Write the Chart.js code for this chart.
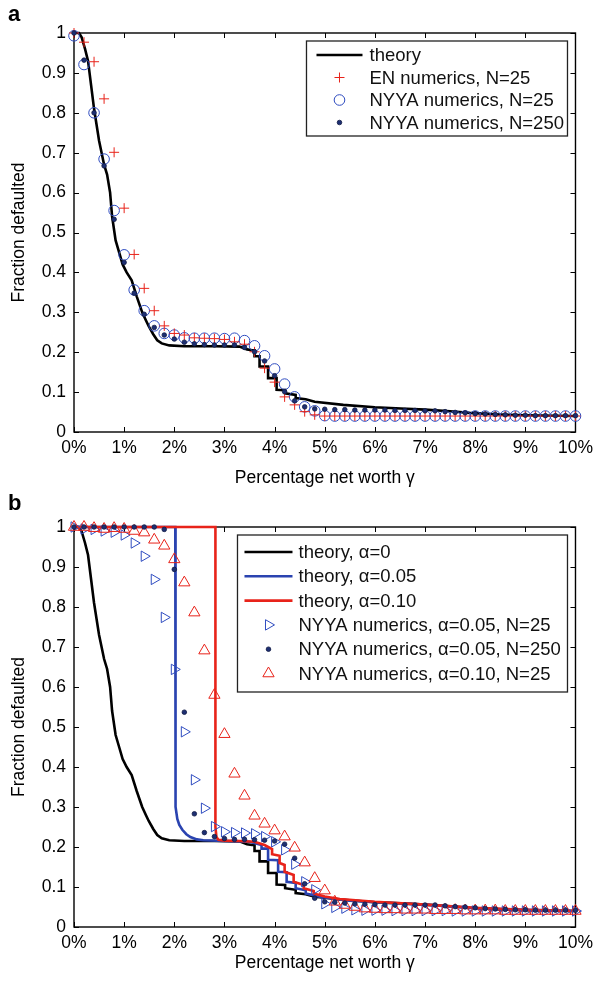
<!DOCTYPE html>
<html lang="en">
<head>
<meta charset="UTF-8" />
<title>Fraction defaulted vs percentage net worth</title>
<script src="https://cdn.jsdelivr.net/npm/chart.js"></script>
<style>
    body { margin: 0; background: #fff; }
    .panel { position: absolute; left: 0; width: 599px; }
    .tag { position: absolute; left: 8px; font: bold 22px "Liberation Sans", Arial, sans-serif; line-height: 22px; }
</style>
</head>
<body>
<div class="panel" style="top:0;height:490px"><canvas id="chartA" width="599" height="490"></canvas></div>
<div class="panel" style="top:490px;height:495px"><canvas id="chartB" width="599" height="495"></canvas></div>
<div class="tag" style="top:3px">a</div>
<div class="tag" style="top:492px">b</div>

<script>
// x positions of the simulated points (percentage net worth)
const xGrid = [0,0.2,0.4,0.6,0.8,1,1.2,1.4,1.6,1.8,2,2.2,2.4,2.6,2.8,3,3.2,3.4,3.6,3.8,4,4.2,4.4,4.6,4.8,
    5,5.2,5.4,5.6,5.8,6,6.2,6.4,6.6,6.8,7,7.2,7.4,7.6,7.8,8,8.2,8.4,8.6,8.8,9,9.2,9.4,9.6,9.8,10];

// theory, alpha = 0 (used in both panels)
const theoryX0 = [0,0.1,0.15,0.22,0.28,0.34,0.4,0.5,0.6,0.66,0.72,0.76,0.83,0.9,0.97,1.05,1.15,1.25,1.36,1.44,
    1.49,1.58,1.66,1.75,1.9,2.2,2.8,3.3,3.45,3.55,3.6,3.6,3.7,3.7,3.87,3.87,4.04,4.04,4.21,4.21,
    4.42,4.42,4.62,4.8,5.37,6.0,6.52,7.0,7.5,7.89,8.5,9.0,10];
const theoryY0 = [1,1,0.99,0.96,0.93,0.87,0.81,0.73,0.67,0.645,0.6,0.54,0.48,0.45,0.42,0.40,0.38,0.34,0.30,0.278,
    0.265,0.245,0.23,0.222,0.217,0.215,0.215,0.214,0.207,0.205,0.205,0.19,0.19,0.164,0.164,0.135,0.135,0.106,0.105,0.097,
    0.093,0.085,0.082,0.076,0.068,0.062,0.059,0.056,0.052,0.048,0.044,0.042,0.040];

// theory, alpha = 0.05
const theoryX05 = [0,2.02,2.02,2.03,2.06,2.1,2.16,2.24,2.32,2.45,2.58,3.0,3.5,3.74,3.74,3.87,3.87,4.07,4.07,4.24,
    4.24,4.42,4.42,4.62,4.62,4.9,5.2,5.5,6.0,7.0,8.0,9.0,10];
const theoryY05 = [1,1,0.33,0.30,0.27,0.255,0.243,0.232,0.225,0.219,0.217,0.215,0.213,0.205,0.196,0.196,0.168,0.167,0.138,0.137,
    0.113,0.11,0.097,0.092,0.084,0.076,0.07,0.066,0.062,0.056,0.047,0.043,0.04];

// theory, alpha = 0.10
const theoryX10 = [0,2.82,2.82,2.84,2.88,3.0,3.3,3.6,3.8,3.95,3.95,4.1,4.1,4.2,4.2,4.38,4.38,4.58,4.58,4.78,
    4.78,5.0,5.3,6.0,7.0,8.0,9.0,10];
const theoryY10 = [1,1,0.25,0.225,0.218,0.216,0.215,0.213,0.205,0.195,0.182,0.178,0.16,0.155,0.138,0.13,0.113,0.105,0.097,0.09,
    0.084,0.076,0.07,0.063,0.056,0.048,0.043,0.04];

// panel a numerics
const enN25 = [1.0,0.977,0.928,0.835,0.701,0.561,0.445,0.36,0.304,0.266,0.247,0.243,0.236,0.235,0.234,0.232,0.226,0.22,0.201,0.16,
    0.125,0.088,0.068,0.051,0.043,0.04,0.04,0.04,0.04,0.04,0.04,0.04,0.04,0.04,0.04,0.04,0.04,0.04,0.04,0.04,
    0.04,0.04,0.04,0.04,0.04,0.04,0.04,0.04,0.04,0.04,0.04];
const nyyaN25 = [0.993,0.921,0.80,0.684,0.555,0.444,0.356,0.304,0.266,0.247,0.243,0.236,0.235,0.235,0.235,0.234,0.235,0.229,0.216,0.191,
    0.158,0.12,0.088,0.063,0.053,0.041,0.04,0.04,0.04,0.04,0.04,0.04,0.04,0.04,0.04,0.04,0.04,0.04,0.04,0.04,
    0.04,0.04,0.04,0.04,0.04,0.04,0.04,0.04,0.04,0.04,0.04];
const nyyaN250 = [1.0,0.932,0.80,0.667,0.533,0.425,0.348,0.295,0.262,0.243,0.233,0.225,0.221,0.219,0.218,0.218,0.218,0.212,0.201,0.178,
    0.141,0.101,0.078,0.063,0.058,0.057,0.056,0.056,0.055,0.055,0.055,0.055,0.054,0.054,0.054,0.053,0.053,0.051,0.049,0.048,
    0.046,0.045,0.044,0.043,0.042,0.042,0.041,0.041,0.041,0.041,0.041];

// panel b numerics
const nyyaA05N25 = [1.0,0.995,0.994,0.99,0.987,0.98,0.96,0.927,0.869,0.774,0.644,0.488,0.368,0.297,0.251,0.238,0.236,0.235,0.233,0.226,
    0.213,0.193,0.157,0.113,0.093,0.058,0.049,0.047,0.043,0.042,0.042,0.042,0.041,0.041,0.041,0.041,0.041,0.041,0.04,0.04,
    0.04,0.04,0.04,0.04,0.04,0.04,0.04,0.04,0.04,0.04,0.04];
const nyyaA05N250 = [1,1,1,1,1,1,1,1,1,0.994,0.894,0.537,0.283,0.236,0.226,0.221,0.219,0.219,0.218,0.217,
    0.215,0.207,0.172,0.108,0.072,0.063,0.062,0.06,0.058,0.057,0.056,0.055,0.055,0.055,0.055,0.055,0.055,0.053,0.051,0.05,
    0.048,0.046,0.045,0.044,0.043,0.043,0.042,0.042,0.042,0.042,0.042];
const nyyaA10N25 = [1.0,1.0,0.997,0.995,0.997,0.995,0.99,0.986,0.968,0.953,0.919,0.861,0.786,0.691,0.58,0.482,0.383,0.328,0.278,0.258,
    0.241,0.226,0.198,0.161,0.122,0.091,0.063,0.055,0.05,0.046,0.045,0.044,0.044,0.043,0.043,0.043,0.042,0.042,0.042,0.041,
    0.041,0.041,0.041,0.04,0.04,0.04,0.04,0.04,0.04,0.04,0.04];

const xTicks = [0,1,2,3,4,5,6,7,8,9,10];
const yTicks = [0,0.1,0.2,0.3,0.4,0.5,0.6,0.7,0.8,0.9,1];

const FONT = '"Liberation Sans", Arial, Helvetica, sans-serif';
const RED = '#e8231a', BLUE = '#2f4cc0', NAVY = '#1d2f72';

function pts(xs, ys) {
    return xs.map((x, i) => ({x: x, y: ys[i]}));
}

function lineSet(label, xs, ys, color, order) {
    return {label, data: pts(xs, ys), showLine: true, borderColor: color, borderWidth: 2.6,
        pointRadius: 0, tension: 0, order, clip: 4, legendType: 'line'};
}

function markSet(label, ys, style, color, fill, radius, order, extra) {
    return Object.assign({label, data: pts(xGrid, ys), showLine: false, pointStyle: style,
        pointRadius: radius, pointBorderColor: color, pointBackgroundColor: fill,
        pointBorderWidth: 1, order, clip: false, legendType: 'mark'}, extra || {});
}

function drawMarker(ctx, ds, cx, cy) {
    const r = ds.pointRadius;
    ctx.save();
    ctx.lineWidth = ds.pointBorderWidth;
    ctx.strokeStyle = ds.pointBorderColor;
    ctx.fillStyle = ds.pointBackgroundColor;
    ctx.beginPath();
    if (ds.pointStyle === 'cross') {
        ctx.moveTo(cx - r, cy); ctx.lineTo(cx + r, cy);
        ctx.moveTo(cx, cy - r); ctx.lineTo(cx, cy + r);
    } else if (ds.pointStyle === 'triangle') {
        let a = (ds.pointRotation || 0) * Math.PI / 180;
        for (let k = 0; k < 3; k++) {
            const px = cx + Math.sin(a) * r, py = cy - Math.cos(a) * r;
            if (k) ctx.lineTo(px, py); else ctx.moveTo(px, py);
            a += 2 * Math.PI / 3;
        }
        ctx.closePath();
    } else {
        ctx.arc(cx, cy, r, 0, 2 * Math.PI);
    }
    ctx.fill();
    ctx.stroke();
    ctx.restore();
}

// box around the axes with inward ticks on all four sides
const framePlugin = {
    id: 'frame',
    beforeDatasetsDraw(chart) {
        const {ctx, chartArea: a, scales} = chart;
        const tl = 5;
        ctx.save();
        ctx.strokeStyle = '#000';
        ctx.lineWidth = 1.4;
        ctx.strokeRect(a.left, a.top, a.right - a.left, a.bottom - a.top);
        ctx.lineWidth = 1;
        ctx.beginPath();
        scales.x.ticks.forEach(t => {
            const px = Math.round(scales.x.getPixelForValue(t.value)) + 0.5;
            ctx.moveTo(px, a.bottom); ctx.lineTo(px, a.bottom - tl);
            ctx.moveTo(px, a.top); ctx.lineTo(px, a.top + tl);
        });
        scales.y.ticks.forEach(t => {
            const py = Math.round(scales.y.getPixelForValue(t.value)) + 0.5;
            ctx.moveTo(a.left, py); ctx.lineTo(a.left + tl, py);
            ctx.moveTo(a.right, py); ctx.lineTo(a.right - tl, py);
        });
        ctx.stroke();
        ctx.restore();
    }
};

// boxed legend inside the top right corner of the axes
const boxLegend = {
    id: 'boxLegend',
    afterDraw(chart, args, o) {
        const {ctx, chartArea: a} = chart;
        const right = a.right - o.inset, left = right - o.width, top = a.top + o.inset;
        ctx.save();
        ctx.fillStyle = '#fff';
        ctx.fillRect(left, top, o.width, o.height);
        ctx.strokeStyle = '#222';
        ctx.lineWidth = 1.3;
        ctx.strokeRect(left, top, o.width, o.height);
        ctx.font = o.fontSize + 'px ' + FONT;
        ctx.textBaseline = 'middle';
        chart.data.datasets.forEach((ds, i) => {
            const cy = top + o.firstRow + i * o.rowH;
            const x0 = left + o.sampleX, x1 = x0 + o.sampleLen;
            if (ds.legendType === 'line') {
                ctx.strokeStyle = ds.borderColor;
                ctx.lineWidth = ds.borderWidth;
                ctx.beginPath();
                ctx.moveTo(x0, cy); ctx.lineTo(x1, cy);
                ctx.stroke();
            } else {
                drawMarker(ctx, ds, (x0 + x1) / 2, cy);
            }
            ctx.fillStyle = '#111';
            ctx.fillText(ds.label, left + o.textX, cy + 1);
        });
        ctx.restore();
    }
};

function makeOptions(pad, xTitleBottom, legend) {
    return {
        responsive: false,
        animation: false,
        events: [],
        layout: {padding: pad},
        plugins: {legend: {display: false}, tooltip: {enabled: false}, boxLegend: legend},
        scales: {
            x: {
                type: 'linear', min: 0, max: 10,
                grid: {display: false, drawTicks: false}, border: {display: false},
                afterBuildTicks: s => { s.ticks = xTicks.map(v => ({value: v})); },
                afterFit: s => { s.height = pad.xh; },
                ticks: {padding: 6, color: '#000', autoSkip: false, maxRotation: 0,
                    font: {family: FONT, size: 17.5}, callback: v => v + '%'},
                title: {display: true, text: 'Percentage net worth \u03b3', color: '#000',
                    padding: {top: 0, bottom: xTitleBottom}, font: {family: FONT, size: 17.5}}
            },
            y: {
                type: 'linear', min: 0, max: 1,
                grid: {display: false, drawTicks: false}, border: {display: false},
                afterBuildTicks: s => { s.ticks = yTicks.map(v => ({value: v})); },
                afterFit: s => { s.width = 74; },
                ticks: {padding: 8, color: '#000', autoSkip: false,
                    font: {family: FONT, size: 17.5}, callback: v => String(v)},
                title: {display: true, text: 'Fraction defaulted', color: '#000',
                    padding: {top: 9, bottom: 0}, font: {family: FONT, size: 17.5}}
            }
        }
    };
}

new Chart(document.getElementById('chartA'), {
    type: 'scatter',
    data: {
        datasets: [
            lineSet('theory', theoryX0, theoryY0, '#000', 10),
            markSet('EN numerics, N=25', enN25, 'cross', RED, RED, 5, 2),
            markSet('NYYA numerics, N=25', nyyaN25, 'circle', BLUE, 'rgba(0,0,0,0)', 5.3, 3),
            markSet('NYYA numerics, N=250', nyyaN250, 'circle', '#111a45', NAVY, 2.3, 1, {pointBorderWidth: 0.8})
        ]
    },
    options: makeOptions({top: 33, right: 18, bottom: 0, left: 0, xh: 58}, 1.5,
        {inset: 8, width: 261, height: 95, firstRow: 14, rowH: 22.5, sampleX: 10, sampleLen: 46, textX: 63, fontSize: 18.5}),
    plugins: [framePlugin, boxLegend]
});

new Chart(document.getElementById('chartB'), {
    type: 'scatter',
    data: {
        datasets: [
            lineSet('theory, \u03b1=0', theoryX0, theoryY0, '#000', 12),
            lineSet('theory, \u03b1=0.05', theoryX05, theoryY05, '#2a43b0', 11),
            lineSet('theory, \u03b1=0.10', theoryX10, theoryY10, RED, 10),
            markSet('NYYA numerics, \u03b1=0.05, N=25', nyyaA05N25, 'triangle', BLUE, 'rgba(0,0,0,0)', 6, 3, {pointRotation: 90}),
            markSet('NYYA numerics, \u03b1=0.05, N=250', nyyaA05N250, 'circle', '#111a45', NAVY, 2.3, 1, {pointBorderWidth: 0.8}),
            markSet('NYYA numerics, \u03b1=0.10, N=25', nyyaA10N25, 'triangle', RED, 'rgba(0,0,0,0)', 6.5, 2)
        ]
    },
    options: makeOptions({top: 37, right: 18, bottom: 0, left: 0, xh: 58}, 11.5,
        {inset: 8, width: 330, height: 157, firstRow: 17, rowH: 24.3, sampleX: 7, sampleLen: 48, textX: 61, fontSize: 18.5}),
    plugins: [framePlugin, boxLegend]
});
</script>
</body>
</html>
